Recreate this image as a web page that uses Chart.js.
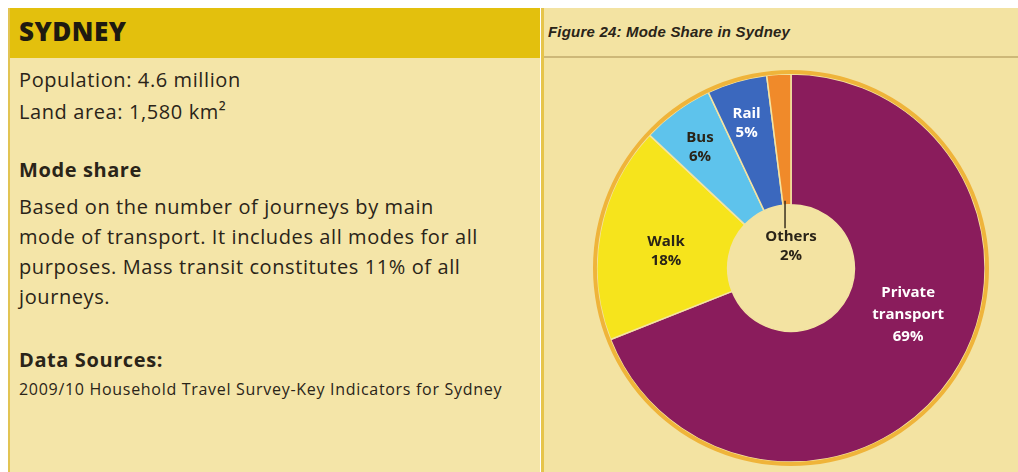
<!DOCTYPE html>
<html>
<head>
<meta charset="utf-8">
<script src="https://cdn.jsdelivr.net/npm/chart.js@4"></script>
<style>
  html, body { margin: 0; padding: 0; }
  body { width: 1018px; height: 472px; background: #ffffff; position: relative; overflow: hidden; font-family: "Open Sans", sans-serif; color: #2a2418; }
  .left { position: absolute; left: 8px; top: 8px; width: 532px; height: 464px; background: #f4e5a8; border-left: 2px solid #e2c454; box-sizing: border-box; }
  .left .bar { height: 50px; background: #e3c00d; }
  .left .bar h1 { margin: 0; padding: 5px 0 0 9px; font-size: 26px; font-weight: 800; letter-spacing: 0.5px; color: #1e1a10; }
  .left .txt { position: absolute; left: 9px; font-size: 20px; letter-spacing: 0.6px; white-space: nowrap; }
  .left .b { font-weight: 700; letter-spacing: 0.6px; }
  .right { position: absolute; left: 541px; top: 8px; width: 477px; height: 464px; background: #f3e3a2; border-left: 3px solid #e6c44a; box-sizing: border-box; }
  .right .cap { height: 50px; border-bottom: 2px solid #cdb878; box-sizing: border-box; }
  .right .cap span { position: absolute; left: 4px; top: 15px; font-family: "Liberation Sans", sans-serif; font-style: italic; font-weight: 700; font-size: 15px; letter-spacing: 0.2px; color: #2a2418; }
  #wrap { position: absolute; left: 593px; top: 70px; width: 396px; height: 396px; }
</style>
</head>
<body>
<div class="left">
  <div class="bar"><h1>SYDNEY</h1></div>
  <div class="txt" style="top:58px">Population: 4.6 million</div>
  <div class="txt" style="top:90px">Land area: 1,580 km²</div>
  <div class="txt b" style="top:148px">Mode share</div>
  <div class="txt" style="top:185px">Based on the number of journeys by main</div>
  <div class="txt" style="top:215px">mode of transport. It includes all modes for all</div>
  <div class="txt" style="top:245px">purposes. Mass transit constitutes 11% of all</div>
  <div class="txt" style="top:275px">journeys.</div>
  <div class="txt b" style="top:338px">Data Sources:</div>
  <div class="txt" style="top:370px; font-size:16px; letter-spacing:0.7px">2009/10 Household Travel Survey-Key Indicators for Sydney</div>
</div>
<div class="right">
  <div class="cap"><span>Figure 24: Mode Share in Sydney</span></div>
</div>
<div id="wrap"><canvas id="chart"></canvas></div>

<script>
// mode share, clockwise from 12 o'clock
const categories = ['Private transport', 'Walk', 'Bus', 'Rail', 'Others'];
const shares = [69, 18, 6, 5, 2];

const sliceColors = ['#8a1c5c', '#f6e41c', '#5ec3ec', '#3b68be', '#f08a2a'];
const labelColors = ['#ffffff', '#2a2418', '#2a2418', '#ffffff', '#2a2418'];

// draws the text labels on the slices, small slices further out, the tiniest in the hole
const sliceLabels = {
    id: 'sliceLabels',
    afterDatasetsDraw(chart) {
        const ctx = chart.ctx;
        const meta = chart.getDatasetMeta(1);
        ctx.save();
        ctx.textAlign = 'center';
        ctx.textBaseline = 'middle';
        meta.data.forEach((arc, i) => {
            const value = shares[i];
            const lines = categories[i].split(' ').concat([value + '%']);
            const p = arc.getProps(['x', 'y', 'startAngle', 'endAngle', 'innerRadius', 'outerRadius'], true);
            // labels sit a bit before the middle of each slice
            const ang = p.startAngle + (p.endAngle - p.startAngle) * 0.45;
            let cx, cy;
            let lh = 19;
            ctx.fillStyle = labelColors[i];
            ctx.font = 'bold 15px "Open Sans", sans-serif';
            if (value <= 2) {
                // label goes in the hole, with a short leader line
                cx = p.x;
                cy = p.y - p.innerRadius * 0.35;
                const mid = (p.startAngle + p.endAngle) / 2;
                const lx = p.x + Math.cos(mid) * p.innerRadius - 2;
                ctx.strokeStyle = '#3a3020';
                ctx.lineWidth = 1.5;
                ctx.beginPath();
                ctx.moveTo(lx, p.y + Math.sin(mid) * p.innerRadius - 4);
                ctx.lineTo(lx, cy - lh * 0.5 - 8);
                ctx.stroke();
            } else {
                const f = value < 10 ? 0.67 : 0.48;
                const r = p.innerRadius + (p.outerRadius - p.innerRadius) * f;
                cx = p.x + Math.cos(ang) * r;
                cy = p.y + Math.sin(ang) * r;
                if (value > 50) lh = 22;
            }
            const top = cy - (lines.length - 1) * lh / 2;
            lines.forEach((t, k) => ctx.fillText(t, cx, top + k * lh));
        });
        ctx.restore();
    }
};

new Chart(document.getElementById('chart'), {
    type: 'doughnut',
    data: {
        labels: categories,
        datasets: [
            {
                // thin golden rim round the outside
                data: [100],
                backgroundColor: ['#efb43a'],
                borderWidth: 0,
                weight: 0.03
            },
            {
                data: shares,
                backgroundColor: sliceColors,
                borderColor: '#f3e3a2',
                borderWidth: 1.5,
                weight: 1
            }
        ]
    },
    options: {
        responsive: true,
        maintainAspectRatio: false,
        animation: false,
        cutout: '32%',
        layout: { padding: 0 },
        plugins: {
            legend: { display: false },
            tooltip: { enabled: false }
        }
    },
    plugins: [sliceLabels]
});
</script>
</body>
</html>
